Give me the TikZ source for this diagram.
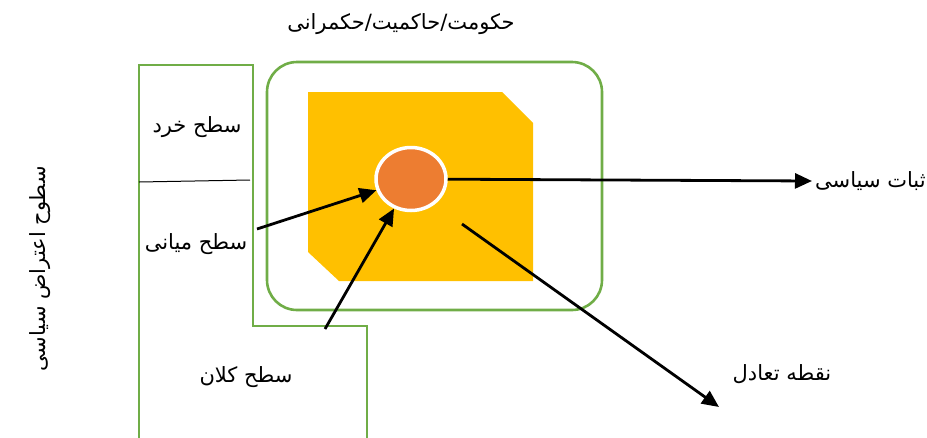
\documentclass[tikz,border=0pt]{standalone}
\usepackage{fontspec}
\newfontfamily\arabicfont[Script=Arabic]{DejaVu Sans}
\TeXXeTstate=1
\usetikzlibrary{arrows.meta,shapes.geometric}
\definecolor{frameGreen}{HTML}{70AD47}
\definecolor{coreYellow}{HTML}{FFC000}
\definecolor{coreOrange}{HTML}{ED7D31}

\begin{document}
\begin{tikzpicture}[x=1pt,y=-1pt,
        lbl/.style={font=\arabicfont\fontsize{21}{25}\selectfont, inner sep=0pt},
        frame/.style={draw=frameGreen, line width=2.6pt},
        arr/.style={line width=2.8pt, -{Triangle[length=17pt,width=15pt]}}]
        % \helpgrid{927}{437}
        \useasboundingbox (0,0) rectangle (927,437);
        \draw[frame] (139,445) -- (139,65) -- (253,65) -- (253,326) -- (367,326) -- (367,445);
        \draw[line width=1pt] (139,182) -- (250,180);
        \draw[frame, rounded corners=30pt] (267,62) rectangle (602,310);
        \fill[coreYellow] (308,92) -- (502,92) -- (533,123) -- (533,281) -- (339,281) -- (308,252) -- cycle;
        \node (core) at (411,179) [ellipse, fill=coreOrange, draw=white, line width=3.5pt, minimum width=70pt, minimum height=63pt, inner sep=0pt] {};
        \node (gov) at (401,24) [lbl] {\beginR حکومت/حاکمیت/حکمرانی\endR};
        \node (levels) at (40,269) [lbl, rotate=90] {\beginR سطوح اعتراض سیاسی\endR};
        \node (micro) at (197,127) [lbl] {\beginR سطح خرد\endR};
        \node (meso) at (196,244) [lbl] {\beginR سطح میانی\endR};
        \node (macro) at (246,377) [lbl] {\beginR سطح کلان\endR};
        \node (stab) at (812,181) [lbl, anchor=west, inner sep=3pt] {\beginR ثبات سیاسی\endR};
        \node (equi) at (782,374) [lbl] {\beginR نقطه تعادل\endR};
        \coordinate (mesoTail) at (257,229);
        \coordinate (macroTail) at (325,329);
        \coordinate (equiTail) at (462,224);
        \coordinate (equiHead) at (719,407);
        \draw[arr] (mesoTail) -- (core);
        \draw[arr] (macroTail) -- (core);
        \draw[arr] (core) -- (stab.west);
        \draw[arr] (equiTail) -- (equiHead);
    \end{tikzpicture}
\end{document}
